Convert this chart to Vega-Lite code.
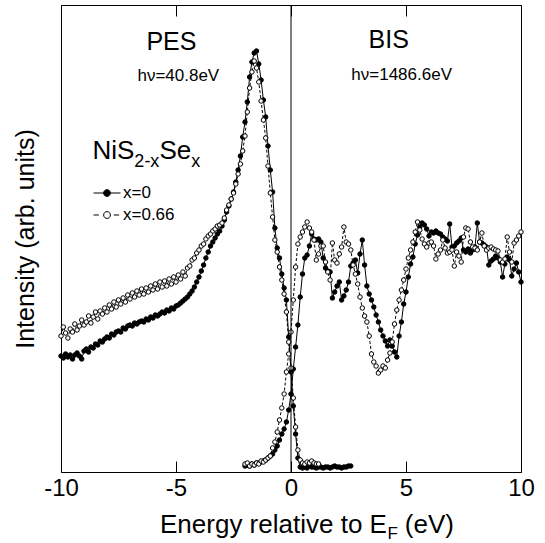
{
"$schema": "https://vega.github.io/schema/vega-lite/v6.json",
"width": 460, "height": 467,
"autosize": {"type": "none"},
"padding": {"left": 61, "top": 5, "right": 24, "bottom": 71},
"background": "white",
"config": {"view": {"stroke": "black", "strokeWidth": 1}, "font": "Liberation Sans", "axis": {"grid": false}, "text": {"font": "Liberation Sans", "color": "black"}},
"datasets": {"d": [
{"g":"x=0","p":"PES","e":-10.0,"i":116},{"g":"x=0","p":"PES","e":-9.9,"i":114},{"g":"x=0","p":"PES","e":-9.8,"i":118},{"g":"x=0","p":"PES","e":-9.7,"i":115},{"g":"x=0","p":"PES","e":-9.6,"i":117},{"g":"x=0","p":"PES","e":-9.5,"i":113},{"g":"x=0","p":"PES","e":-9.4,"i":117},{"g":"x=0","p":"PES","e":-9.3,"i":119},{"g":"x=0","p":"PES","e":-9.2,"i":116},{"g":"x=0","p":"PES","e":-9.1,"i":113},
{"g":"x=0","p":"PES","e":-9.0,"i":121},{"g":"x=0","p":"PES","e":-8.9,"i":123},{"g":"x=0","p":"PES","e":-8.8,"i":120},{"g":"x=0","p":"PES","e":-8.7,"i":125},{"g":"x=0","p":"PES","e":-8.6,"i":124},{"g":"x=0","p":"PES","e":-8.5,"i":128},{"g":"x=0","p":"PES","e":-8.4,"i":127},{"g":"x=0","p":"PES","e":-8.3,"i":131},{"g":"x=0","p":"PES","e":-8.2,"i":130},{"g":"x=0","p":"PES","e":-8.1,"i":133},
{"g":"x=0","p":"PES","e":-8.0,"i":135},{"g":"x=0","p":"PES","e":-7.9,"i":134},{"g":"x=0","p":"PES","e":-7.8,"i":138},{"g":"x=0","p":"PES","e":-7.7,"i":137},{"g":"x=0","p":"PES","e":-7.6,"i":140},{"g":"x=0","p":"PES","e":-7.5,"i":141},{"g":"x=0","p":"PES","e":-7.4,"i":140},{"g":"x=0","p":"PES","e":-7.3,"i":144},{"g":"x=0","p":"PES","e":-7.2,"i":143},{"g":"x=0","p":"PES","e":-7.1,"i":146},
{"g":"x=0","p":"PES","e":-7.0,"i":147},{"g":"x=0","p":"PES","e":-6.9,"i":146},{"g":"x=0","p":"PES","e":-6.8,"i":149},{"g":"x=0","p":"PES","e":-6.7,"i":148},{"g":"x=0","p":"PES","e":-6.6,"i":150},{"g":"x=0","p":"PES","e":-6.5,"i":151},{"g":"x=0","p":"PES","e":-6.4,"i":150},{"g":"x=0","p":"PES","e":-6.3,"i":153},{"g":"x=0","p":"PES","e":-6.2,"i":152},{"g":"x=0","p":"PES","e":-6.1,"i":155},
{"g":"x=0","p":"PES","e":-6.0,"i":154},{"g":"x=0","p":"PES","e":-5.9,"i":157},{"g":"x=0","p":"PES","e":-5.8,"i":156},{"g":"x=0","p":"PES","e":-5.7,"i":158},{"g":"x=0","p":"PES","e":-5.6,"i":160},{"g":"x=0","p":"PES","e":-5.5,"i":159},{"g":"x=0","p":"PES","e":-5.4,"i":162},{"g":"x=0","p":"PES","e":-5.3,"i":161},{"g":"x=0","p":"PES","e":-5.2,"i":164},{"g":"x=0","p":"PES","e":-5.1,"i":163},
{"g":"x=0","p":"PES","e":-5.0,"i":166},{"g":"x=0","p":"PES","e":-4.9,"i":167},{"g":"x=0","p":"PES","e":-4.8,"i":169},{"g":"x=0","p":"PES","e":-4.7,"i":171},{"g":"x=0","p":"PES","e":-4.6,"i":173},{"g":"x=0","p":"PES","e":-4.5,"i":175},{"g":"x=0","p":"PES","e":-4.4,"i":178},{"g":"x=0","p":"PES","e":-4.3,"i":181},{"g":"x=0","p":"PES","e":-4.2,"i":185},{"g":"x=0","p":"PES","e":-4.1,"i":190},
{"g":"x=0","p":"PES","e":-4.0,"i":195},{"g":"x=0","p":"PES","e":-3.9,"i":201},{"g":"x=0","p":"PES","e":-3.8,"i":207},{"g":"x=0","p":"PES","e":-3.7,"i":214},{"g":"x=0","p":"PES","e":-3.6,"i":220},{"g":"x=0","p":"PES","e":-3.5,"i":226},{"g":"x=0","p":"PES","e":-3.4,"i":230},{"g":"x=0","p":"PES","e":-3.3,"i":234},{"g":"x=0","p":"PES","e":-3.2,"i":238},{"g":"x=0","p":"PES","e":-3.1,"i":241},
{"g":"x=0","p":"PES","e":-3.0,"i":246},{"g":"x=0","p":"PES","e":-2.9,"i":252},{"g":"x=0","p":"PES","e":-2.8,"i":260},{"g":"x=0","p":"PES","e":-2.7,"i":266},{"g":"x=0","p":"PES","e":-2.6,"i":273},{"g":"x=0","p":"PES","e":-2.5,"i":280},{"g":"x=0","p":"PES","e":-2.4,"i":290},{"g":"x=0","p":"PES","e":-2.3,"i":302},{"g":"x=0","p":"PES","e":-2.2,"i":316},{"g":"x=0","p":"PES","e":-2.1,"i":335},
{"g":"x=0","p":"PES","e":-2.0,"i":350},{"g":"x=0","p":"PES","e":-1.9,"i":370},{"g":"x=0","p":"PES","e":-1.8,"i":395},{"g":"x=0","p":"PES","e":-1.7,"i":410},{"g":"x=0","p":"PES","e":-1.6,"i":419},{"g":"x=0","p":"PES","e":-1.5,"i":421},{"g":"x=0","p":"PES","e":-1.4,"i":408},{"g":"x=0","p":"PES","e":-1.3,"i":392},{"g":"x=0","p":"PES","e":-1.2,"i":372},{"g":"x=0","p":"PES","e":-1.1,"i":355},
{"g":"x=0","p":"PES","e":-1.0,"i":326},{"g":"x=0","p":"PES","e":-0.9,"i":302},{"g":"x=0","p":"PES","e":-0.8,"i":280},{"g":"x=0","p":"PES","e":-0.7,"i":244},{"g":"x=0","p":"PES","e":-0.6,"i":224},{"g":"x=0","p":"PES","e":-0.5,"i":214},{"g":"x=0","p":"PES","e":-0.4,"i":198},{"g":"x=0","p":"PES","e":-0.3,"i":184},{"g":"x=0","p":"PES","e":-0.2,"i":172},{"g":"x=0","p":"PES","e":-0.1,"i":135},
{"g":"x=0","p":"PES","e":0.0,"i":100},{"g":"x=0","p":"PES","e":0.1,"i":66},{"g":"x=0","p":"PES","e":0.2,"i":38},{"g":"x=0","p":"PES","e":0.3,"i":14},{"g":"x=0","p":"PES","e":0.4,"i":5},{"g":"x=0","p":"PES","e":0.5,"i":4},{"g":"x=0","p":"PES","e":0.6,"i":5},{"g":"x=0","p":"PES","e":0.7,"i":4},{"g":"x=0","p":"PES","e":0.8,"i":6},{"g":"x=0","p":"PES","e":0.9,"i":5},
{"g":"x=0","p":"PES","e":1.0,"i":5},{"g":"x=0","p":"PES","e":1.1,"i":4},{"g":"x=0","p":"PES","e":1.2,"i":5},{"g":"x=0","p":"PES","e":1.3,"i":5},{"g":"x=0","p":"PES","e":1.4,"i":4},{"g":"x=0","p":"PES","e":1.5,"i":5},{"g":"x=0","p":"PES","e":1.6,"i":5},{"g":"x=0","p":"PES","e":1.7,"i":4},{"g":"x=0","p":"PES","e":1.8,"i":5},{"g":"x=0","p":"PES","e":1.9,"i":6},
{"g":"x=0","p":"PES","e":2.0,"i":5},{"g":"x=0","p":"PES","e":2.1,"i":5},{"g":"x=0","p":"PES","e":2.2,"i":4},{"g":"x=0","p":"PES","e":2.3,"i":5},{"g":"x=0","p":"PES","e":2.4,"i":5},{"g":"x=0","p":"PES","e":2.5,"i":6},{"g":"x=0","p":"PES","e":2.6,"i":6},
{"g":"x=0","p":"BIS","e":-2.0,"i":6},{"g":"x=0","p":"BIS","e":-1.9,"i":7},{"g":"x=0","p":"BIS","e":-1.8,"i":6},{"g":"x=0","p":"BIS","e":-1.7,"i":8},{"g":"x=0","p":"BIS","e":-1.6,"i":7},{"g":"x=0","p":"BIS","e":-1.5,"i":9},{"g":"x=0","p":"BIS","e":-1.4,"i":9},{"g":"x=0","p":"BIS","e":-1.3,"i":10},{"g":"x=0","p":"BIS","e":-1.2,"i":11},{"g":"x=0","p":"BIS","e":-1.1,"i":12},
{"g":"x=0","p":"BIS","e":-1.0,"i":14},{"g":"x=0","p":"BIS","e":-0.9,"i":16},{"g":"x=0","p":"BIS","e":-0.8,"i":18},{"g":"x=0","p":"BIS","e":-0.7,"i":22},{"g":"x=0","p":"BIS","e":-0.6,"i":26},{"g":"x=0","p":"BIS","e":-0.5,"i":32},{"g":"x=0","p":"BIS","e":-0.4,"i":38},{"g":"x=0","p":"BIS","e":-0.3,"i":43},{"g":"x=0","p":"BIS","e":-0.2,"i":50},{"g":"x=0","p":"BIS","e":-0.1,"i":62},
{"g":"x=0","p":"BIS","e":0.0,"i":78},{"g":"x=0","p":"BIS","e":0.1,"i":103},{"g":"x=0","p":"BIS","e":0.2,"i":125},{"g":"x=0","p":"BIS","e":0.3,"i":147},{"g":"x=0","p":"BIS","e":0.4,"i":175},{"g":"x=0","p":"BIS","e":0.5,"i":198},{"g":"x=0","p":"BIS","e":0.6,"i":214},{"g":"x=0","p":"BIS","e":0.7,"i":217},{"g":"x=0","p":"BIS","e":0.8,"i":226},{"g":"x=0","p":"BIS","e":0.9,"i":238},
{"g":"x=0","p":"BIS","e":1.0,"i":233},{"g":"x=0","p":"BIS","e":1.1,"i":232},{"g":"x=0","p":"BIS","e":1.2,"i":233},{"g":"x=0","p":"BIS","e":1.3,"i":230},{"g":"x=0","p":"BIS","e":1.4,"i":214},{"g":"x=0","p":"BIS","e":1.5,"i":204},{"g":"x=0","p":"BIS","e":1.6,"i":201},{"g":"x=0","p":"BIS","e":1.7,"i":200},{"g":"x=0","p":"BIS","e":1.8,"i":174},{"g":"x=0","p":"BIS","e":1.9,"i":180},
{"g":"x=0","p":"BIS","e":2.0,"i":186},{"g":"x=0","p":"BIS","e":2.1,"i":190},{"g":"x=0","p":"BIS","e":2.2,"i":172},{"g":"x=0","p":"BIS","e":2.3,"i":176},{"g":"x=0","p":"BIS","e":2.4,"i":182},{"g":"x=0","p":"BIS","e":2.5,"i":190},{"g":"x=0","p":"BIS","e":2.6,"i":206},{"g":"x=0","p":"BIS","e":2.7,"i":209},{"g":"x=0","p":"BIS","e":2.8,"i":212},{"g":"x=0","p":"BIS","e":2.9,"i":199},
{"g":"x=0","p":"BIS","e":3.0,"i":218},{"g":"x=0","p":"BIS","e":3.1,"i":232},{"g":"x=0","p":"BIS","e":3.2,"i":207},{"g":"x=0","p":"BIS","e":3.3,"i":186},{"g":"x=0","p":"BIS","e":3.4,"i":178},{"g":"x=0","p":"BIS","e":3.5,"i":172},{"g":"x=0","p":"BIS","e":3.6,"i":165},{"g":"x=0","p":"BIS","e":3.7,"i":157},{"g":"x=0","p":"BIS","e":3.8,"i":150},{"g":"x=0","p":"BIS","e":3.9,"i":142},
{"g":"x=0","p":"BIS","e":4.0,"i":136},{"g":"x=0","p":"BIS","e":4.1,"i":131},{"g":"x=0","p":"BIS","e":4.2,"i":126},{"g":"x=0","p":"BIS","e":4.3,"i":132},{"g":"x=0","p":"BIS","e":4.4,"i":126},{"g":"x=0","p":"BIS","e":4.5,"i":120},{"g":"x=0","p":"BIS","e":4.6,"i":115},{"g":"x=0","p":"BIS","e":4.7,"i":136},{"g":"x=0","p":"BIS","e":4.8,"i":150},{"g":"x=0","p":"BIS","e":4.9,"i":168},
{"g":"x=0","p":"BIS","e":5.0,"i":180},{"g":"x=0","p":"BIS","e":5.1,"i":195},{"g":"x=0","p":"BIS","e":5.2,"i":208},{"g":"x=0","p":"BIS","e":5.3,"i":215},{"g":"x=0","p":"BIS","e":5.4,"i":228},{"g":"x=0","p":"BIS","e":5.5,"i":237},{"g":"x=0","p":"BIS","e":5.6,"i":245},{"g":"x=0","p":"BIS","e":5.7,"i":249},{"g":"x=0","p":"BIS","e":5.8,"i":247},{"g":"x=0","p":"BIS","e":5.9,"i":243},
{"g":"x=0","p":"BIS","e":6.0,"i":236},{"g":"x=0","p":"BIS","e":6.1,"i":240},{"g":"x=0","p":"BIS","e":6.2,"i":239},{"g":"x=0","p":"BIS","e":6.3,"i":241},{"g":"x=0","p":"BIS","e":6.4,"i":239},{"g":"x=0","p":"BIS","e":6.5,"i":238},{"g":"x=0","p":"BIS","e":6.6,"i":235},{"g":"x=0","p":"BIS","e":6.7,"i":233},{"g":"x=0","p":"BIS","e":6.8,"i":231},{"g":"x=0","p":"BIS","e":6.9,"i":248},
{"g":"x=0","p":"BIS","e":7.0,"i":225},{"g":"x=0","p":"BIS","e":7.1,"i":226},{"g":"x=0","p":"BIS","e":7.2,"i":229},{"g":"x=0","p":"BIS","e":7.3,"i":231},{"g":"x=0","p":"BIS","e":7.4,"i":234},{"g":"x=0","p":"BIS","e":7.5,"i":222},{"g":"x=0","p":"BIS","e":7.6,"i":220},{"g":"x=0","p":"BIS","e":7.7,"i":223},{"g":"x=0","p":"BIS","e":7.8,"i":219},{"g":"x=0","p":"BIS","e":7.9,"i":222},
{"g":"x=0","p":"BIS","e":8.0,"i":225},{"g":"x=0","p":"BIS","e":8.1,"i":249},{"g":"x=0","p":"BIS","e":8.2,"i":230},{"g":"x=0","p":"BIS","e":8.3,"i":229},{"g":"x=0","p":"BIS","e":8.4,"i":227},{"g":"x=0","p":"BIS","e":8.5,"i":225},{"g":"x=0","p":"BIS","e":8.6,"i":207},{"g":"x=0","p":"BIS","e":8.7,"i":211},{"g":"x=0","p":"BIS","e":8.8,"i":213},{"g":"x=0","p":"BIS","e":8.9,"i":216},
{"g":"x=0","p":"BIS","e":9.0,"i":214},{"g":"x=0","p":"BIS","e":9.1,"i":210},{"g":"x=0","p":"BIS","e":9.2,"i":195},{"g":"x=0","p":"BIS","e":9.3,"i":208},{"g":"x=0","p":"BIS","e":9.4,"i":215},{"g":"x=0","p":"BIS","e":9.5,"i":212},{"g":"x=0","p":"BIS","e":9.6,"i":196},{"g":"x=0","p":"BIS","e":9.7,"i":203},{"g":"x=0","p":"BIS","e":9.8,"i":209},{"g":"x=0","p":"BIS","e":9.9,"i":200},{"g":"x=0","p":"BIS","e":10.0,"i":190},
{"g":"x=0.66","p":"PES","e":-10.0,"i":136},{"g":"x=0.66","p":"PES","e":-9.9,"i":145},{"g":"x=0.66","p":"PES","e":-9.8,"i":139},{"g":"x=0.66","p":"PES","e":-9.7,"i":134},{"g":"x=0.66","p":"PES","e":-9.6,"i":143},{"g":"x=0.66","p":"PES","e":-9.5,"i":140},{"g":"x=0.66","p":"PES","e":-9.4,"i":148},{"g":"x=0.66","p":"PES","e":-9.3,"i":142},{"g":"x=0.66","p":"PES","e":-9.2,"i":146},{"g":"x=0.66","p":"PES","e":-9.1,"i":152},
{"g":"x=0.66","p":"PES","e":-9.0,"i":147},{"g":"x=0.66","p":"PES","e":-8.9,"i":150},{"g":"x=0.66","p":"PES","e":-8.8,"i":156},{"g":"x=0.66","p":"PES","e":-8.7,"i":149},{"g":"x=0.66","p":"PES","e":-8.6,"i":155},{"g":"x=0.66","p":"PES","e":-8.5,"i":160},{"g":"x=0.66","p":"PES","e":-8.4,"i":153},{"g":"x=0.66","p":"PES","e":-8.3,"i":161},{"g":"x=0.66","p":"PES","e":-8.2,"i":158},{"g":"x=0.66","p":"PES","e":-8.1,"i":164},
{"g":"x=0.66","p":"PES","e":-8.0,"i":160},{"g":"x=0.66","p":"PES","e":-7.9,"i":167},{"g":"x=0.66","p":"PES","e":-7.8,"i":163},{"g":"x=0.66","p":"PES","e":-7.7,"i":170},{"g":"x=0.66","p":"PES","e":-7.6,"i":165},{"g":"x=0.66","p":"PES","e":-7.5,"i":172},{"g":"x=0.66","p":"PES","e":-7.4,"i":168},{"g":"x=0.66","p":"PES","e":-7.3,"i":174},{"g":"x=0.66","p":"PES","e":-7.2,"i":170},{"g":"x=0.66","p":"PES","e":-7.1,"i":177},
{"g":"x=0.66","p":"PES","e":-7.0,"i":173},{"g":"x=0.66","p":"PES","e":-6.9,"i":179},{"g":"x=0.66","p":"PES","e":-6.8,"i":175},{"g":"x=0.66","p":"PES","e":-6.7,"i":181},{"g":"x=0.66","p":"PES","e":-6.6,"i":177},{"g":"x=0.66","p":"PES","e":-6.5,"i":183},{"g":"x=0.66","p":"PES","e":-6.4,"i":178},{"g":"x=0.66","p":"PES","e":-6.3,"i":184},{"g":"x=0.66","p":"PES","e":-6.2,"i":180},{"g":"x=0.66","p":"PES","e":-6.1,"i":186},
{"g":"x=0.66","p":"PES","e":-6.0,"i":182},{"g":"x=0.66","p":"PES","e":-5.9,"i":188},{"g":"x=0.66","p":"PES","e":-5.8,"i":183},{"g":"x=0.66","p":"PES","e":-5.7,"i":190},{"g":"x=0.66","p":"PES","e":-5.6,"i":185},{"g":"x=0.66","p":"PES","e":-5.5,"i":191},{"g":"x=0.66","p":"PES","e":-5.4,"i":186},{"g":"x=0.66","p":"PES","e":-5.3,"i":193},{"g":"x=0.66","p":"PES","e":-5.2,"i":188},{"g":"x=0.66","p":"PES","e":-5.1,"i":195},
{"g":"x=0.66","p":"PES","e":-5.0,"i":190},{"g":"x=0.66","p":"PES","e":-4.9,"i":197},{"g":"x=0.66","p":"PES","e":-4.8,"i":193},{"g":"x=0.66","p":"PES","e":-4.7,"i":200},{"g":"x=0.66","p":"PES","e":-4.6,"i":196},{"g":"x=0.66","p":"PES","e":-4.5,"i":204},{"g":"x=0.66","p":"PES","e":-4.4,"i":206},{"g":"x=0.66","p":"PES","e":-4.3,"i":212},{"g":"x=0.66","p":"PES","e":-4.2,"i":214},{"g":"x=0.66","p":"PES","e":-4.1,"i":219},
{"g":"x=0.66","p":"PES","e":-4.0,"i":222},{"g":"x=0.66","p":"PES","e":-3.9,"i":226},{"g":"x=0.66","p":"PES","e":-3.8,"i":228},{"g":"x=0.66","p":"PES","e":-3.7,"i":233},{"g":"x=0.66","p":"PES","e":-3.6,"i":236},{"g":"x=0.66","p":"PES","e":-3.5,"i":238},{"g":"x=0.66","p":"PES","e":-3.4,"i":241},{"g":"x=0.66","p":"PES","e":-3.3,"i":243},{"g":"x=0.66","p":"PES","e":-3.2,"i":246},{"g":"x=0.66","p":"PES","e":-3.1,"i":247},
{"g":"x=0.66","p":"PES","e":-3.0,"i":249},{"g":"x=0.66","p":"PES","e":-2.9,"i":254},{"g":"x=0.66","p":"PES","e":-2.8,"i":262},{"g":"x=0.66","p":"PES","e":-2.7,"i":267},{"g":"x=0.66","p":"PES","e":-2.6,"i":273},{"g":"x=0.66","p":"PES","e":-2.5,"i":279},{"g":"x=0.66","p":"PES","e":-2.4,"i":288},{"g":"x=0.66","p":"PES","e":-2.3,"i":298},{"g":"x=0.66","p":"PES","e":-2.2,"i":308},{"g":"x=0.66","p":"PES","e":-2.1,"i":321},
{"g":"x=0.66","p":"PES","e":-2.0,"i":336},{"g":"x=0.66","p":"PES","e":-1.9,"i":360},{"g":"x=0.66","p":"PES","e":-1.8,"i":384},{"g":"x=0.66","p":"PES","e":-1.7,"i":400},{"g":"x=0.66","p":"PES","e":-1.6,"i":411},{"g":"x=0.66","p":"PES","e":-1.5,"i":404},{"g":"x=0.66","p":"PES","e":-1.4,"i":390},{"g":"x=0.66","p":"PES","e":-1.3,"i":371},{"g":"x=0.66","p":"PES","e":-1.2,"i":352},{"g":"x=0.66","p":"PES","e":-1.1,"i":334},
{"g":"x=0.66","p":"PES","e":-1.0,"i":306},{"g":"x=0.66","p":"PES","e":-0.9,"i":279},{"g":"x=0.66","p":"PES","e":-0.8,"i":255},{"g":"x=0.66","p":"PES","e":-0.7,"i":232},{"g":"x=0.66","p":"PES","e":-0.6,"i":220},{"g":"x=0.66","p":"PES","e":-0.5,"i":205},{"g":"x=0.66","p":"PES","e":-0.4,"i":192},{"g":"x=0.66","p":"PES","e":-0.3,"i":178},{"g":"x=0.66","p":"PES","e":-0.2,"i":160},{"g":"x=0.66","p":"PES","e":-0.1,"i":130},
{"g":"x=0.66","p":"PES","e":0.0,"i":104},{"g":"x=0.66","p":"PES","e":0.1,"i":74},{"g":"x=0.66","p":"PES","e":0.2,"i":45},{"g":"x=0.66","p":"PES","e":0.3,"i":22},{"g":"x=0.66","p":"PES","e":0.4,"i":12},{"g":"x=0.66","p":"PES","e":0.5,"i":9},{"g":"x=0.66","p":"PES","e":0.6,"i":8},{"g":"x=0.66","p":"PES","e":0.7,"i":10},{"g":"x=0.66","p":"PES","e":0.8,"i":9},{"g":"x=0.66","p":"PES","e":0.9,"i":11},{"g":"x=0.66","p":"PES","e":1.0,"i":9},{"g":"x=0.66","p":"PES","e":1.1,"i":8},{"g":"x=0.66","p":"PES","e":1.2,"i":8},
{"g":"x=0.66","p":"BIS","e":-2.0,"i":8},{"g":"x=0.66","p":"BIS","e":-1.9,"i":9},{"g":"x=0.66","p":"BIS","e":-1.8,"i":6},{"g":"x=0.66","p":"BIS","e":-1.7,"i":8},{"g":"x=0.66","p":"BIS","e":-1.6,"i":7},{"g":"x=0.66","p":"BIS","e":-1.5,"i":9},{"g":"x=0.66","p":"BIS","e":-1.4,"i":8},{"g":"x=0.66","p":"BIS","e":-1.3,"i":11},{"g":"x=0.66","p":"BIS","e":-1.2,"i":10},{"g":"x=0.66","p":"BIS","e":-1.1,"i":12},
{"g":"x=0.66","p":"BIS","e":-1.0,"i":14},{"g":"x=0.66","p":"BIS","e":-0.9,"i":16},{"g":"x=0.66","p":"BIS","e":-0.8,"i":24},{"g":"x=0.66","p":"BIS","e":-0.7,"i":30},{"g":"x=0.66","p":"BIS","e":-0.6,"i":40},{"g":"x=0.66","p":"BIS","e":-0.5,"i":52},{"g":"x=0.66","p":"BIS","e":-0.4,"i":64},{"g":"x=0.66","p":"BIS","e":-0.3,"i":78},{"g":"x=0.66","p":"BIS","e":-0.2,"i":100},{"g":"x=0.66","p":"BIS","e":-0.1,"i":118},
{"g":"x=0.66","p":"BIS","e":0.0,"i":140},{"g":"x=0.66","p":"BIS","e":0.1,"i":172},{"g":"x=0.66","p":"BIS","e":0.2,"i":205},{"g":"x=0.66","p":"BIS","e":0.3,"i":228},{"g":"x=0.66","p":"BIS","e":0.4,"i":235},{"g":"x=0.66","p":"BIS","e":0.5,"i":240},{"g":"x=0.66","p":"BIS","e":0.6,"i":245},{"g":"x=0.66","p":"BIS","e":0.7,"i":250},{"g":"x=0.66","p":"BIS","e":0.8,"i":244},{"g":"x=0.66","p":"BIS","e":0.9,"i":240},
{"g":"x=0.66","p":"BIS","e":1.0,"i":232},{"g":"x=0.66","p":"BIS","e":1.1,"i":212},{"g":"x=0.66","p":"BIS","e":1.2,"i":218},{"g":"x=0.66","p":"BIS","e":1.3,"i":226},{"g":"x=0.66","p":"BIS","e":1.4,"i":226},{"g":"x=0.66","p":"BIS","e":1.5,"i":210},{"g":"x=0.66","p":"BIS","e":1.6,"i":200},{"g":"x=0.66","p":"BIS","e":1.7,"i":192},{"g":"x=0.66","p":"BIS","e":1.8,"i":229},{"g":"x=0.66","p":"BIS","e":1.9,"i":212},
{"g":"x=0.66","p":"BIS","e":2.0,"i":209},{"g":"x=0.66","p":"BIS","e":2.1,"i":218},{"g":"x=0.66","p":"BIS","e":2.2,"i":225},{"g":"x=0.66","p":"BIS","e":2.3,"i":245},{"g":"x=0.66","p":"BIS","e":2.4,"i":230},{"g":"x=0.66","p":"BIS","e":2.5,"i":228},{"g":"x=0.66","p":"BIS","e":2.6,"i":222},{"g":"x=0.66","p":"BIS","e":2.7,"i":207},{"g":"x=0.66","p":"BIS","e":2.8,"i":198},{"g":"x=0.66","p":"BIS","e":2.9,"i":188},
{"g":"x=0.66","p":"BIS","e":3.0,"i":175},{"g":"x=0.66","p":"BIS","e":3.1,"i":164},{"g":"x=0.66","p":"BIS","e":3.2,"i":156},{"g":"x=0.66","p":"BIS","e":3.3,"i":150},{"g":"x=0.66","p":"BIS","e":3.4,"i":136},{"g":"x=0.66","p":"BIS","e":3.5,"i":118},{"g":"x=0.66","p":"BIS","e":3.6,"i":110},{"g":"x=0.66","p":"BIS","e":3.7,"i":106},{"g":"x=0.66","p":"BIS","e":3.8,"i":99},{"g":"x=0.66","p":"BIS","e":3.9,"i":102},
{"g":"x=0.66","p":"BIS","e":4.0,"i":106},{"g":"x=0.66","p":"BIS","e":4.1,"i":104},{"g":"x=0.66","p":"BIS","e":4.2,"i":112},{"g":"x=0.66","p":"BIS","e":4.3,"i":119},{"g":"x=0.66","p":"BIS","e":4.4,"i":130},{"g":"x=0.66","p":"BIS","e":4.5,"i":148},{"g":"x=0.66","p":"BIS","e":4.6,"i":162},{"g":"x=0.66","p":"BIS","e":4.7,"i":172},{"g":"x=0.66","p":"BIS","e":4.8,"i":182},{"g":"x=0.66","p":"BIS","e":4.9,"i":192},
{"g":"x=0.66","p":"BIS","e":5.0,"i":203},{"g":"x=0.66","p":"BIS","e":5.1,"i":214},{"g":"x=0.66","p":"BIS","e":5.2,"i":222},{"g":"x=0.66","p":"BIS","e":5.3,"i":230},{"g":"x=0.66","p":"BIS","e":5.4,"i":240},{"g":"x=0.66","p":"BIS","e":5.5,"i":250},{"g":"x=0.66","p":"BIS","e":5.6,"i":242},{"g":"x=0.66","p":"BIS","e":5.7,"i":233},{"g":"x=0.66","p":"BIS","e":5.8,"i":228},{"g":"x=0.66","p":"BIS","e":5.9,"i":225},
{"g":"x=0.66","p":"BIS","e":6.0,"i":229},{"g":"x=0.66","p":"BIS","e":6.1,"i":230},{"g":"x=0.66","p":"BIS","e":6.2,"i":226},{"g":"x=0.66","p":"BIS","e":6.3,"i":213},{"g":"x=0.66","p":"BIS","e":6.4,"i":218},{"g":"x=0.66","p":"BIS","e":6.5,"i":222},{"g":"x=0.66","p":"BIS","e":6.6,"i":232},{"g":"x=0.66","p":"BIS","e":6.7,"i":224},{"g":"x=0.66","p":"BIS","e":6.8,"i":219},{"g":"x=0.66","p":"BIS","e":6.9,"i":220},
{"g":"x=0.66","p":"BIS","e":7.0,"i":222},{"g":"x=0.66","p":"BIS","e":7.1,"i":206},{"g":"x=0.66","p":"BIS","e":7.2,"i":220},{"g":"x=0.66","p":"BIS","e":7.3,"i":216},{"g":"x=0.66","p":"BIS","e":7.4,"i":210},{"g":"x=0.66","p":"BIS","e":7.5,"i":235},{"g":"x=0.66","p":"BIS","e":7.6,"i":244},{"g":"x=0.66","p":"BIS","e":7.7,"i":243},{"g":"x=0.66","p":"BIS","e":7.8,"i":230},{"g":"x=0.66","p":"BIS","e":7.9,"i":225},
{"g":"x=0.66","p":"BIS","e":8.0,"i":224},{"g":"x=0.66","p":"BIS","e":8.1,"i":222},{"g":"x=0.66","p":"BIS","e":8.2,"i":230},{"g":"x=0.66","p":"BIS","e":8.3,"i":239},{"g":"x=0.66","p":"BIS","e":8.4,"i":226},{"g":"x=0.66","p":"BIS","e":8.5,"i":222},{"g":"x=0.66","p":"BIS","e":8.6,"i":224},{"g":"x=0.66","p":"BIS","e":8.7,"i":225},{"g":"x=0.66","p":"BIS","e":8.8,"i":223},{"g":"x=0.66","p":"BIS","e":8.9,"i":222},
{"g":"x=0.66","p":"BIS","e":9.0,"i":221},{"g":"x=0.66","p":"BIS","e":9.1,"i":212},{"g":"x=0.66","p":"BIS","e":9.2,"i":210},{"g":"x=0.66","p":"BIS","e":9.3,"i":213},{"g":"x=0.66","p":"BIS","e":9.4,"i":235},{"g":"x=0.66","p":"BIS","e":9.5,"i":220},{"g":"x=0.66","p":"BIS","e":9.6,"i":210},{"g":"x=0.66","p":"BIS","e":9.7,"i":229},{"g":"x=0.66","p":"BIS","e":9.8,"i":232},{"g":"x=0.66","p":"BIS","e":9.9,"i":236},{"g":"x=0.66","p":"BIS","e":10.0,"i":240}
]},
"layer": [
 {"layer": [
  {"data": {"name": "d"},
   "transform": [{"filter": "datum.g == 'x=0'"}],
   "mark": {"type": "line", "color": "black", "strokeWidth": 1},
   "encoding": {
    "x": {"field": "e", "type": "quantitative", "scale": {"domain": [-10, 10], "nice": false, "zero": false},
          "axis": {"values": [-10, -5, 0, 5, 10], "tickSize": -11, "tickColor": "black", "tickWidth": 1, "domain": false, "title": null, "labelFontSize": 24, "labelFont": "Liberation Sans", "labelColor": "black", "labelPadding": 15, "labelFlush": false, "labelExpr": "'' + datum.value"}},
    "y": {"field": "i", "type": "quantitative", "scale": {"domain": [0, 467], "nice": false},
          "axis": {"title": "Intensity (arb. units)", "titleFontSize": 25, "titleFont": "Liberation Sans", "titleFontWeight": "normal", "titleColor": "black", "titlePadding": 23, "labels": false, "ticks": false, "domain": false}},
    "detail": {"field": "p"}
   }},
  {"data": {"name": "d"},
   "transform": [{"filter": "datum.g == 'x=0.66'"}],
   "mark": {"type": "line", "color": "black", "strokeWidth": 1, "strokeDash": [3, 2]},
   "encoding": {
    "x": {"field": "e", "type": "quantitative"},
    "y": {"field": "i", "type": "quantitative"},
    "detail": {"field": "p"}
   }},
  {"data": {"name": "d"},
   "mark": {"type": "circle", "size": 20, "opacity": 1, "stroke": "black", "strokeWidth": 1},
   "encoding": {
    "x": {"field": "e", "type": "quantitative"},
    "y": {"field": "i", "type": "quantitative"},
    "fill": {"field": "g", "type": "nominal", "scale": {"domain": ["x=0", "x=0.66"], "range": ["black", "white"]},
      "legend": {"title": null, "orient": "none", "legendX": 32, "legendY": 174, "padding": 0, "rowPadding": 0, "labelFontSize": 17, "labelFont": "Liberation Sans", "labelColor": "black", "labelOffset": 2, "symbolSize": 729, "symbolOpacity": 1, "symbolStrokeColor": "black", "symbolStrokeWidth": 1}}
   }},
  {"data": {"name": "d"},
   "transform": [{"filter": "false"}],
   "mark": {"type": "point", "filled": false, "opacity": 1, "strokeWidth": 1, "size": 729},
   "encoding": {
    "x": {"field": "e", "type": "quantitative"},
    "y": {"field": "i", "type": "quantitative"},
    "fill": {"field": "g", "type": "nominal",
      "legend": {"title": null, "orient": "none", "legendX": 32, "legendY": 174, "padding": 0, "rowPadding": 0, "labelFontSize": 17, "labelFont": "Liberation Sans", "labelColor": "black", "labelOffset": 2, "symbolSize": 729, "symbolOpacity": 1, "symbolStrokeColor": "black", "symbolStrokeWidth": 1}},
    "stroke": {"field": "g", "type": "nominal", "scale": {"domain": ["x=0", "x=0.66"], "range": ["black", "black"]},
      "legend": {"title": null, "orient": "none", "legendX": 32, "legendY": 174, "padding": 0, "rowPadding": 0, "labelFontSize": 17, "labelFont": "Liberation Sans", "labelColor": "black", "labelOffset": 2, "symbolSize": 729, "symbolOpacity": 1, "symbolStrokeColor": "black", "symbolStrokeWidth": 1}},
    "shape": {"field": "g", "type": "nominal",
      "scale": {"domain": ["x=0", "x=0.66"], "range": ["M-1,0L1,0M0.25,0A0.25,0.25,0,1,1,-0.25,0A0.25,0.25,0,1,1,0.25,0Z", "M-1,0L-0.6,0M0.5,0L0.9,0M0.25,0A0.25,0.25,0,1,1,-0.25,0A0.25,0.25,0,1,1,0.25,0Z"]},
      "legend": {"title": null, "orient": "none", "legendX": 32, "legendY": 174, "padding": 0, "rowPadding": 0, "labelFontSize": 17, "labelFont": "Liberation Sans", "labelColor": "black", "labelOffset": 2, "symbolSize": 729, "symbolOpacity": 1, "symbolStrokeColor": "black", "symbolStrokeWidth": 1}}
   }},
  {"data": {"values": [{}]}, "mark": {"type": "text", "fontSize": 25, "align": "center", "baseline": "alphabetic"},
   "encoding": {"x": {"datum": -5.2}, "y": {"datum": 422}, "text": {"value": "PES"}}},
  {"data": {"values": [{}]}, "mark": {"type": "text", "fontSize": 17, "align": "center", "baseline": "alphabetic"},
   "encoding": {"x": {"datum": -4.9}, "y": {"datum": 391}, "text": {"value": "hν=40.8eV"}}},
  {"data": {"values": [{}]}, "mark": {"type": "text", "fontSize": 25, "align": "center", "baseline": "alphabetic"},
   "encoding": {"x": {"datum": 4.25}, "y": {"datum": 424}, "text": {"value": "BIS"}}},
  {"data": {"values": [{}]}, "mark": {"type": "text", "fontSize": 17, "align": "center", "baseline": "alphabetic"},
   "encoding": {"x": {"datum": 4.81}, "y": {"datum": 392}, "text": {"value": "hν=1486.6eV"}}},
  {"data": {"values": [{}]}, "mark": {"type": "text", "fontSize": 26, "align": "left", "baseline": "alphabetic"},
   "encoding": {"x": {"datum": -8.63}, "y": {"datum": 313}, "text": {"value": "NiS"}}},
  {"data": {"values": [{}]}, "mark": {"type": "text", "fontSize": 18, "align": "left", "baseline": "alphabetic"},
   "encoding": {"x": {"datum": -6.81}, "y": {"datum": 305}, "text": {"value": "2-x"}}},
  {"data": {"values": [{}]}, "mark": {"type": "text", "fontSize": 26, "align": "left", "baseline": "alphabetic"},
   "encoding": {"x": {"datum": -5.72}, "y": {"datum": 313}, "text": {"value": "Se"}}},
  {"data": {"values": [{}]}, "mark": {"type": "text", "fontSize": 18, "align": "left", "baseline": "alphabetic"},
   "encoding": {"x": {"datum": -4.34}, "y": {"datum": 305}, "text": {"value": "x"}}},
  {"data": {"values": [{}]}, "mark": {"type": "text", "fontSize": 26, "align": "right", "baseline": "alphabetic"},
   "encoding": {"x": {"datum": 4.17}, "y": {"datum": -61}, "text": {"value": "Energy relative to E"}}},
  {"data": {"values": [{}]}, "mark": {"type": "text", "fontSize": 17, "align": "left", "baseline": "alphabetic"},
   "encoding": {"x": {"datum": 4.2}, "y": {"datum": -67}, "text": {"value": "F"}}},
  {"data": {"values": [{}]}, "mark": {"type": "text", "fontSize": 26, "align": "left", "baseline": "alphabetic"},
   "encoding": {"x": {"datum": 4.95}, "y": {"datum": -61}, "text": {"value": "(eV)"}}}
 ]},
 {"data": {"values": [{}]},
  "mark": {"type": "rule", "color": "black", "strokeWidth": 1},
  "encoding": {"x": {"datum": 0, "type": "quantitative",
    "axis": {"orient": "top", "values": [-10, -5, 0, 5, 10], "tickSize": -11, "tickColor": "black", "tickWidth": 1, "labels": false, "domain": false, "title": null}}}}
],
"resolve": {"axis": {"x": "independent"}}
}
